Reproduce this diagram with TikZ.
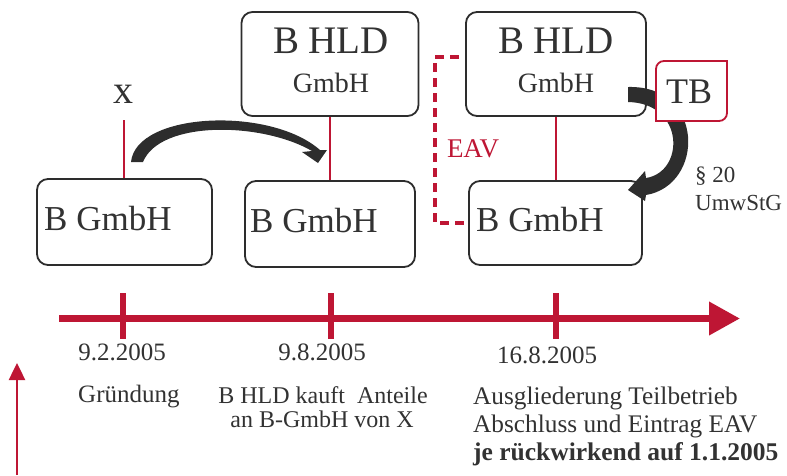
\documentclass[tikz,border=0pt]{standalone}
\usepackage{fontspec}
\setmainfont{Liberation Serif}
\usetikzlibrary{arrows.meta,calc}
\definecolor{crim}{RGB}{190,22,52}
\definecolor{ink}{RGB}{45,45,45}
\definecolor{txtc}{RGB}{50,50,50}
\newcommand{\fz}[1]{\fontsize{#1}{#1}\selectfont}
\begin{document}
\begin{tikzpicture}[x=1pt,y=-1pt,
  box/.style={draw=ink, line width=1.8pt, rounded corners=11pt, fill=white, inner sep=0pt},
  lbl/.style={text=txtc, inner sep=0pt},
  link/.style={draw=crim, line width=2pt},
  bigarrow/.style={fill=ink},
  tick/.style={draw=crim, line width=6pt}]
\useasboundingbox (0,0) rectangle (787,475);

% boxes
\node[box, minimum width=175pt, minimum height=86pt] (b1) at (124.5,222) {};
\node[box, minimum width=170pt, minimum height=86pt] (b2) at (330,224) {};
\node[box, minimum width=177pt, minimum height=104pt] (h1) at (330,64) {};
\node[box, minimum width=180pt, minimum height=104pt] (h2) at (556,64) {};
\node[box, minimum width=173pt, minimum height=84pt] (b3) at (555.5,223) {};

% box texts
\node[lbl, anchor=base west, font=\fz{35}] (b1t) at (44,230) {B GmbH};
\node[lbl, anchor=base west, font=\fz{35}] (b2t) at (250,232) {B GmbH};
\node[lbl, anchor=base west, font=\fz{35}] (b3t) at (476,231.5) {B GmbH};
\node[lbl, anchor=base, font=\fz{39}] (h1a) at (331,53) {B HLD};
\node[lbl, anchor=base, font=\fz{28}] (h1b) at (331,92) {GmbH};
\node[lbl, anchor=base, font=\fz{39}] (h2a) at (556,53) {B HLD};
\node[lbl, anchor=base, font=\fz{28}] (h2b) at (556,92) {GmbH};

% x
\node[lbl, anchor=base, font=\fz{40}] (x) at (123,103) {x};
\coordinate (xl) at (124,120);

% red links
\draw[link] (xl) -- (xl |- b1.north);
\draw[link] (h1.south) -- (h1.south |- b2.north);
\draw[link] (h2.south) -- (h2.south |- b3.north);

% EAV dashed
\coordinate (e1) at (459,57);
\draw[crim, line width=3.5pt, dash pattern=on 9pt off 6pt] (e1) -- ++(-24,0) |- (b3.west);
\node[anchor=base, text=crim, inner sep=0pt, font=\fz{27}] (eav) at (473,157) {EAV};

% curved arrow 1
\fill[bigarrow] (131,162) .. controls (136,112) and (270,106) .. (320,150)
  -- (327,150) -- (318,163) -- (302,152) -- (312,151)
  .. controls (262,122) and (160,120) .. (143,162) -- cycle;

% curved arrow 2
\fill[bigarrow] (628,87) .. controls (705,85) and (705,185) .. (646,195)
  -- (645,201) -- (628,190) -- (645,171) -- (646,178)
  .. controls (685,172) and (685,103) .. (628,102) -- cycle;

% TB box
\draw[crim, line width=1.8pt, fill=white] (656,121) -- (656,69)
  arc[start angle=180, end angle=270, radius=8] -- (727,61) -- (727,113)
  arc[start angle=0, end angle=90, radius=8] -- cycle;
\node[lbl, anchor=base, font=\fz{36}] (tb) at (689,103) {TB};

\node[lbl, anchor=base west, font=\fz{23}] (p1) at (695,182) {§ 20};
\node[lbl, anchor=base west, font=\fz{23}] (p2) at (695,210) {UmwStG};

% timeline
\coordinate (tl0) at (59,318.5);
\coordinate (tl1) at (740,318.5);
\draw[crim, line width=7pt, -{Triangle[length=31pt,width=32pt]}] (tl0) -- (tl1);
\coordinate (t1) at (123,318.5);
\coordinate (t2) at (331,318.5);
\coordinate (t3) at (556,318.5);
\foreach \t in {t1,t2,t3}
  \draw[tick] ($(\t)+(0,-25.5)$) -- ($(\t)+(0,20)$);

\node[lbl, anchor=base, font=\fz{25}] (d1) at (122,360) {9.2.2005};
\node[lbl, anchor=base, font=\fz{25}] (d2) at (322,360) {9.8.2005};
\node[lbl, anchor=base, font=\fz{25}] (d3) at (547,363) {16.8.2005};

\node[lbl, anchor=base west, font=\fz{25}] (g) at (78,402) {Gründung};
\node[lbl, anchor=base, font=\fz{24}] (m1) at (323,403) {B HLD kauft~ Anteile};
\node[lbl, anchor=base, font=\fz{24}] (m2) at (322,427) {an B-GmbH von X};
\node[lbl, anchor=base west, font=\fz{25.3}] (r1) at (473,404) {Ausgliederung Teilbetrieb};
\node[lbl, anchor=base west, font=\fz{25.3}] (r2) at (473,432) {Abschluss und Eintrag EAV};
\node[lbl, anchor=base west, font=\fz{25.5}\bfseries] (r3) at (473,460) {je rückwirkend auf 1.1.2005};

% small vertical arrow
\coordinate (va0) at (17,475);
\coordinate (va1) at (17,363);
\draw[crim, line width=2.5pt, -{Triangle[length=17pt,width=16pt]}] (va0) -- (va1);
\end{tikzpicture}
\end{document}
